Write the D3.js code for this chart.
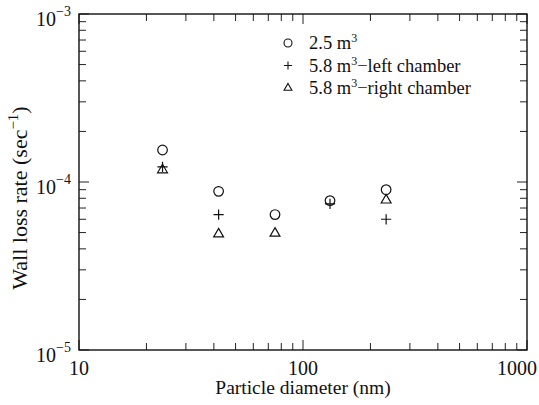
<!DOCTYPE html>
<html>
<head>
<meta charset="utf-8">
<script src="https://cdn.jsdelivr.net/npm/d3@7"></script>
<style>
body { margin: 0; background: #fff; }
text { font-family: "Liberation Serif", "DejaVu Serif", serif; fill: #111; }
</style>
</head>
<body>
<div id="chart"></div>
<script>
// particle diameter (nm) and wall loss rates (1/s)
const diameters = [23.6, 42, 75, 132, 235];
const rate25 = [1.55e-4, 8.8e-5, 6.4e-5, 7.75e-5, 9.0e-5];
const rateLeft = [1.23e-4, 6.4e-5, null, 7.4e-5, 6.0e-5];
const rateRight = [1.18e-4, 4.9e-5, 4.95e-5, null, 7.8e-5];
const xTickLabels = [10, 100, 1000];
const yTickExps = [-5, -4, -3];
const legendNames = ["2.5 m", "5.8 m", "5.8 m"];
const legendTails = ["", "\u2212left chamber", "\u2212right chamber"];

const width = 539, height = 405;
const margin = {top: 14, right: 12, bottom: 55, left: 79};
const plotW = width - margin.left - margin.right;
const plotH = height - margin.top - margin.bottom;

const svg = d3.select("#chart").append("svg")
  .attr("width", width).attr("height", height);
const g = svg.append("g")
  .attr("transform", "translate(" + margin.left + "," + margin.top + ")");

const x = d3.scaleLog().domain([10, 1000]).range([0, plotW]);
const y = d3.scaleLog().domain([1e-5, 1e-3]).range([plotH, 0]);

const isMajor = v => Math.abs(Math.log10(v) - Math.round(Math.log10(v))) < 1e-6;

// ticks on all four sides, pointing in
const xt = x.ticks(), yt = y.ticks();
const tickG = g.append("g").attr("stroke", "#222").attr("stroke-width", 1);
xt.forEach(v => {
  const len = isMajor(v) ? 10 : 7;
  tickG.append("line").attr("x1", x(v)).attr("x2", x(v)).attr("y1", plotH).attr("y2", plotH - len);
  tickG.append("line").attr("x1", x(v)).attr("x2", x(v)).attr("y1", 0).attr("y2", len);
});
yt.forEach(v => {
  const len = isMajor(v) ? 10 : 7;
  tickG.append("line").attr("y1", y(v)).attr("y2", y(v)).attr("x1", 0).attr("x2", len);
  tickG.append("line").attr("y1", y(v)).attr("y2", y(v)).attr("x1", plotW).attr("x2", plotW - len);
});

g.append("rect")
  .attr("width", plotW).attr("height", plotH)
  .attr("fill", "none").attr("stroke", "#111").attr("stroke-width", 1.4);

// tick labels (last one pulled in so it stays inside the page)
g.selectAll(".xl").data(xTickLabels).enter().append("text")
  .attr("class", "xl")
  .attr("y", plotH + 25)
  .attr("text-anchor", "middle")
  .style("font-size", "20px")
  .text(d => d)
  .attr("x", function(d) {
    const half = this.getComputedTextLength() / 2;
    return Math.min(x(d), plotW + margin.right - half - 2);
  });

const yl = g.selectAll(".yl").data(yTickExps).enter().append("text")
  .attr("class", "yl")
  .attr("x", -8).attr("y", d => y(Math.pow(10, d)) + 12)
  .attr("text-anchor", "end")
  .style("font-size", "20px");
yl.append("tspan").text("10");
yl.append("tspan").attr("dy", -10).style("font-size", "14px")
  .text(d => "\u2212" + Math.abs(d));

// axis titles
g.append("text")
  .attr("x", x(100)).attr("y", plotH + 44)
  .attr("text-anchor", "middle")
  .style("font-size", "19.5px")
  .text("Particle diameter (nm)");

const yTitle = g.append("text")
  .attr("transform", "translate(" + (-52) + "," + (y(1e-4) + 16) + ") rotate(-90)")
  .attr("text-anchor", "middle")
  .style("font-size", "22px");
yTitle.append("tspan").text("Wall loss rate (sec");
yTitle.append("tspan").attr("dy", -9).style("font-size", "15px").text("\u22121");
yTitle.append("tspan").attr("dy", 9).text(")");

// markers
const circleSym = d3.symbol(d3.symbolCircle, Math.PI * 4.8 * 4.8);
const plusSym = d3.symbol(d3.symbolPlus, 36);
const triSym = d3.symbol(d3.symbolTriangle2, 70);

function drawSeries(values, sym) {
  const pts = diameters.map((d, i) => ({d: d, v: values[i]})).filter(p => p.v != null);
  g.append("g").selectAll("path").data(pts).enter().append("path")
    .attr("transform", p => "translate(" + x(p.d) + "," + y(p.v) + ")")
    .attr("d", sym)
    .attr("fill", "none").attr("stroke", "#111").attr("stroke-width", 1.2);
}
drawSeries(rate25, circleSym);
drawSeries(rateLeft, plusSym);
drawSeries(rateRight, triSym);

// legend
const legSyms = [d3.symbol(d3.symbolCircle, Math.PI * 16), d3.symbol(d3.symbolPlus, 24), d3.symbol(d3.symbolTriangle2, 44)];
const leg = g.append("g").attr("transform", "translate(" + (288 - margin.left) + "," + (43 - margin.top) + ")");
legendNames.forEach((name, i) => {
  const row = leg.append("g").attr("transform", "translate(0," + i * 22.5 + ")");
  row.append("path").attr("d", legSyms[i])
    .attr("fill", "none").attr("stroke", "#111").attr("stroke-width", 1.1);
  const t = row.append("text").attr("x", 21).attr("y", 6).style("font-size", "18.5px");
  t.append("tspan").text(name);
  t.append("tspan").attr("dy", -7).style("font-size", "12px").text("3");
  t.append("tspan").attr("dy", 7).text(legendTails[i]);
});
</script>
</body>
</html>
